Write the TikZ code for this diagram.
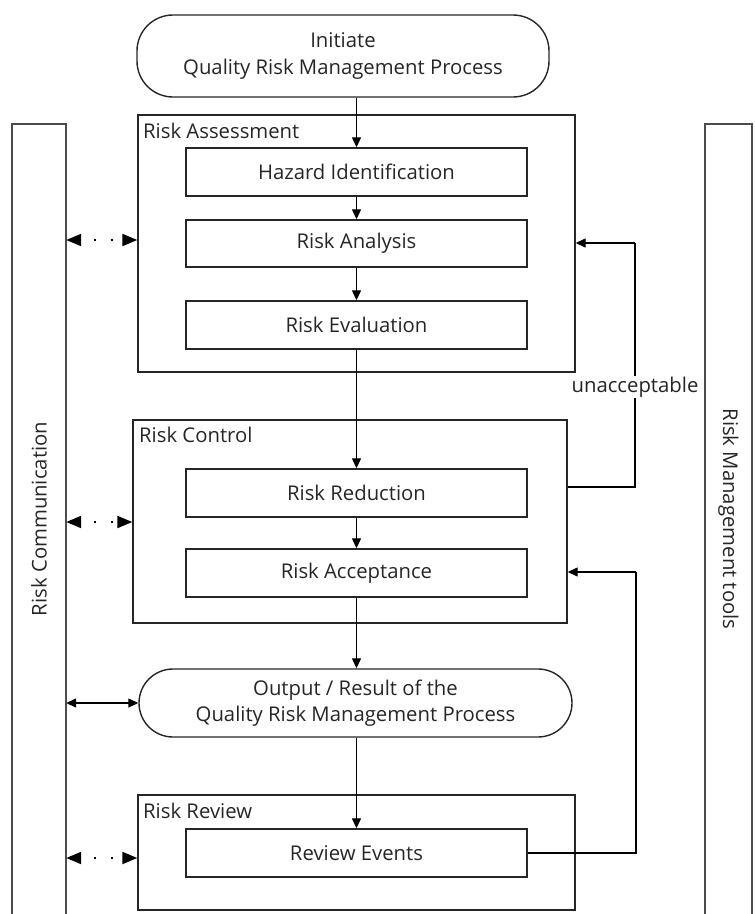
\documentclass[tikz,border=0pt]{standalone}
\usepackage{fontspec}
\setmainfont{Open Sans}
\usetikzlibrary{arrows.meta,calc}
\begin{document}
\begin{tikzpicture}[x=1pt,y=-1pt,
  font=\fontsize{20.3}{26.5}\selectfont,
  every node/.style={text=black!85},
  inbox/.style={draw=black!85, line width=1.4pt, minimum width=341pt, minimum height=48pt, inner sep=0pt},
  frame/.style={draw=black!85, line width=1.4pt, inner sep=0pt},
  term/.style={draw=black!85, line width=1.4pt, rounded corners=36pt, align=center, inner sep=0pt},
  column/.style={draw=none, inner sep=0pt},
  colline/.style={draw=black!70, line width=1.6pt},
  framelabel/.style={anchor=base west, inner sep=0pt},
  flow/.style={draw=black, line width=1.3pt, -{Triangle[length=10pt,width=9pt]}},
  link/.style={draw=black, line width=1.3pt},
  both/.style={draw=black, line width=1.3pt, {Triangle[length=10pt,width=9pt]}-{Triangle[length=10pt,width=9pt]}},
  dotlink/.style={draw=black, line width=2pt, {Triangle[length=15pt,width=12pt]}-{Triangle[length=15pt,width=12pt]},
     dash pattern=on 0pt off 13pt on 2pt off 15pt on 2pt off 60pt}
]
\useasboundingbox (0,0) rectangle (755,914);

% side columns
\node[column, minimum width=54pt, minimum height=790pt] (comm) at (39,519) {};
\draw[colline] (comm.south west) -- (comm.north west) -- (comm.north east) -- (comm.south east);
\node[rotate=90] (commlabel) at (comm.center) {Risk Communication};

\node[column, minimum width=47pt, minimum height=790pt] (tools) at (728.5,519) {};
\draw[colline] (tools.south west) -- (tools.north west) -- (tools.north east) -- (tools.south east);
\node[rotate=-90] (toolslabel) at (tools.center) {Risk Management tools};

% start terminator
\node[term, minimum width=412pt, minimum height=82pt] (init) at (343,56) {Initiate\\Quality Risk Management Process};

% risk assessment
\node[frame, minimum width=437pt, minimum height=257pt] (ra) at (356.5,243.5) {};
\node[framelabel] (ralabel) at (143,138) {Risk Assessment};
\node[inbox] (haz) at (356.5,172) {Hazard Identification};
\node[inbox, minimum height=47pt] (ana) at (356.5,243.5) {Risk Analysis};
\node[inbox] (eva) at (356.5,325) {Risk Evaluation};

% risk control
\node[frame, minimum width=434pt, minimum height=203pt] (rc) at (350,521.5) {};
\node[framelabel] (rclabel) at (139,442) {Risk Control};
\node[inbox] (red) at (356.5,493) {Risk Reduction};
\node[inbox] (acc) at (356.5,573) {Risk Acceptance};

% output terminator
\node[term, minimum width=433pt, minimum height=68pt, rounded corners=34pt] (out) at (355.5,703) {Output / Result of the\\Quality Risk Management Process};

% risk review
\node[frame, minimum width=437pt, minimum height=115pt] (rr) at (356.5,852.5) {};
\node[framelabel] (rrlabel) at (143,818) {Risk Review};
\node[inbox] (rev) at (356.5,853) {Review Events};

% main flow
\draw[flow] (haz.north |- init.south) -- (haz.north);
\draw[flow] (haz.south) -- (ana.north);
\draw[flow] (ana.south) -- (eva.north);
\draw[flow] (eva.south) -- (red.north);
\draw[flow] (red.south) -- (acc.north);
\draw[flow] (acc.south) -- (out.north -| acc.south);
\draw[flow] (out.south -| rev.north) -- (rev.north);

% feedback loops
\coordinate (fb1a) at (635,487);
\coordinate (fb1b) at (635,243);
\draw[link] (rc.east |- fb1a) -- (fb1a) -- (fb1b);
\draw[flow] (fb1b) -- (ra.east |- fb1b);
\node[fill=white, inner sep=1pt] (unacc) at (635,387) {unacceptable};

\coordinate (fb2a) at (636,853);
\coordinate (fb2b) at (636,572);
\draw[link] (rev.east) -- (fb2a) -- (fb2b);
\draw[flow] (fb2b) -- (rc.east |- fb2b);

% communication links
\draw[dotlink] (comm.east |- 0,240) -- (ra.west |- 0,240);
\draw[dotlink] (comm.east |- 0,522) -- (rc.west |- 0,522);
\draw[both] (comm.east |- out.west) -- (out.west);
\draw[dotlink] (comm.east |- 0,858) -- (rr.west |- 0,858);
\end{tikzpicture}
\end{document}
